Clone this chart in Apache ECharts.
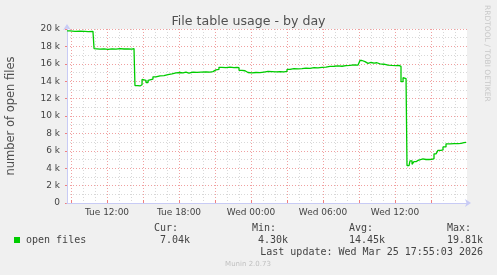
<!DOCTYPE html>
<html>
<head>
<meta charset="utf-8">
<script src="https://cdn.jsdelivr.net/npm/echarts@6/dist/echarts.min.js"></script>
<style>
html,body{margin:0;padding:0;background:#f0f0f0;}
#c{width:497px;height:275px;}
</style>
</head>
<body>
<div id="c"></div>
<script>
// hours since Tue 00:00
const hours = [8.67,8.92,9.33,9.75,10.17,10.42,10.83,10.92,11.08,11.42,11.75,12.08,12.42,12.75,13.08,13.42,13.75,14.08,14.25,14.33,14.58,14.75,14.92,15.08,15.25,15.42,15.58,15.83,16.08,16.42,16.75,17.08,17.42,17.75,18.08,18.33,18.58,18.83,19.17,19.5,19.83,20.25,20.58,20.83,21.08,21.33,21.58,21.92,22.25,22.58,22.83,23.0,23.25,23.5,23.75,24.08,24.42,24.75,25.08,25.42,25.75,26.08,26.42,26.75,27.0,27.25,27.58,27.92,28.25,28.58,28.92,29.25,29.58,29.92,30.25,30.58,30.92,31.25,31.58,31.92,32.25,32.58,32.92,33.08,33.25,33.5,33.75,34.0,34.25,34.5,34.75,35.08,35.42,35.75,36.08,36.33,36.5,36.67,36.83,36.92,37.0,37.17,37.25,37.42,37.58,37.75,37.92,38.08,38.33,38.58,38.83,39.08,39.25,39.42,39.58,39.83,40.0,40.25,40.58,40.92,41.25,41.5,41.75,41.92];
// open files (thousands)
const openFiles = [19.78,19.72,19.74,19.72,19.70,19.73,19.72,17.75,17.68,17.72,17.66,17.72,17.68,17.75,17.70,17.72,17.68,17.75,17.9,13.5,13.45,13.6,14.2,14.1,13.85,14.1,14.25,14.5,14.62,14.65,14.75,14.85,14.95,15.0,14.95,15.05,14.92,15.05,15.02,15.05,15.08,15.05,15.1,15.3,15.35,15.6,15.55,15.62,15.55,15.58,15.55,15.25,15.2,15.0,14.95,15.0,14.98,15.05,15.12,15.1,15.08,15.1,15.08,15.12,15.35,15.45,15.42,15.45,15.5,15.48,15.55,15.52,15.6,15.62,15.7,15.72,15.75,15.72,15.78,15.82,15.88,15.85,15.88,16.38,16.25,16.05,16.15,16.08,16.12,16.0,15.95,15.85,15.82,15.8,15.82,15.7,13.95,14.4,14.3,14.25,4.3,4.4,4.85,4.45,4.75,4.9,4.9,5.06,5.0,5.0,5.02,5.1,5.65,5.7,6.05,6.1,6.45,6.8,6.82,6.82,6.85,6.95,6.98,7.04];
const xStart = 8.6667, xEnd = 42;
const majorHours = [9,12,15,18,21,24,27,30,33,36,39];
const minorHours = [];
for (let h = 9; h <= 41; h++) if (majorHours.indexOf(h) < 0) minorHours.push(h);
const labelHours = [12,18,24,30,36];
const labelNames = {12:'Tue 12:00',18:'Tue 18:00',24:'Wed 00:00',30:'Wed 06:00',36:'Wed 12:00'};
const stats = {cur:'7.04k', min:'4.30k', avg:'14.45k', max:'19.81k'};
const lastUpdate = 'Last update: Wed Mar 25 17:55:03 2026';

const chart = echarts.init(document.getElementById('c'), null, {renderer:'canvas'});
const mono = 'DejaVu Sans Mono';
const sans = 'DejaVu Sans';
const monoFont = '10px "' + mono + '"';
function label(x, y, text, align) {
  return {type:'text', x:x, y:y, style:{text:text, fill:'#444', font:monoFont, textAlign:align||'left', textVerticalAlign:'middle'}};
}
chart.setOption({
  backgroundColor:'#f0f0f0',
  animation:false,
  title:{text:'File table usage - by day', left:'center', top:10, textStyle:{fontFamily:sans, fontSize:12.6, fontWeight:'normal', color:'#505050'}},
  grid:{left:67, right:30, top:29, bottom:72, show:true, backgroundColor:'#ffffff', borderWidth:0, outerBoundsMode:'none', containLabel:false},
  xAxis:[{
    type:'value', min:xStart, max:xEnd,
    axisLine:{show:true, lineStyle:{color:'#c8cbf5', width:1}, symbol:['none','arrow'], symbolSize:[6,6], symbolOffset:[0,4]},
    axisTick:{show:true, customValues:majorHours, inside:true, length:3, lineStyle:{color:'#f08080'}},
    axisLabel:{customValues:labelHours, formatter:v=>labelNames[Math.round(v)]||'', fontFamily:sans, fontSize:9, color:'#444', margin:5},
    splitLine:{show:true, lineStyle:{color:'#f0a0a0', type:[1,2], width:1}},
    z:3
  },{
    type:'value', min:xStart, max:xEnd, position:'bottom',
    axisLine:{show:false},
    axisTick:{show:false, customValues:minorHours},
    axisLabel:{show:false},
    splitLine:{show:true, lineStyle:{color:'#d8d8d8', type:[1,2], width:1}},
    z:2
  }],
  yAxis:{
    type:'value', min:0, max:20000, interval:2000,
    name:'number of open files', nameLocation:'middle', nameGap:50, nameRotate:90,
    nameTextStyle:{fontFamily:sans, fontSize:11.5, color:'#505050'},
    axisLine:{show:true, lineStyle:{color:'#c8cbf5'}, symbol:['none','arrow'], symbolSize:[6,6], symbolOffset:[0,5]},
    axisTick:{show:true, length:2, lineStyle:{color:'#f08080'}},
    minorTick:{show:false, splitNumber:2},
    axisLabel:{formatter:v=>v===0?'0':(v/1000)+' k', fontFamily:sans, fontSize:9, color:'#444', margin:7},
    splitLine:{show:true, lineStyle:{color:'#f0a0a0', type:[1,2], width:1}},
    minorSplitLine:{show:true, lineStyle:{color:'#d8d8d8', type:[1,2], width:1}}
  },
  series:[{
    type:'line', xAxisIndex:0, step:'end', symbol:'none',
    data:hours.map((h,i)=>[h, openFiles[i]*1000]),
    lineStyle:{color:'#00cc00', width:1.3},
    z:5
  }],
  graphic:[
    {type:'rect', shape:{x:14, y:237, width:6, height:6}, style:{fill:'#00cc00'}},
    label(26, 240, 'open files'),
    label(154, 228, 'Cur:'),
    label(252, 228, 'Min:'),
    label(349, 228, 'Avg:'),
    label(447, 228, 'Max:'),
    label(190, 240, stats.cur, 'right'),
    label(288, 240, stats.min, 'right'),
    label(385, 240, stats.avg, 'right'),
    label(483, 240, stats.max, 'right'),
    label(483, 252, lastUpdate, 'right'),
    {type:'text', x:248, y:264, style:{text:'Munin 2.0.73', fill:'#c0c0c0', font:'7px "'+sans+'"', textAlign:'center', textVerticalAlign:'middle'}},
    {type:'text', x:487, y:5, rotation:-Math.PI/2, style:{text:'RRDTOOL / TOBI OETIKER', fill:'#c8c8c8', font:'7.5px "'+sans+'"', textAlign:'left', textVerticalAlign:'middle'}}
  ]
});
</script>
</body>
</html>
